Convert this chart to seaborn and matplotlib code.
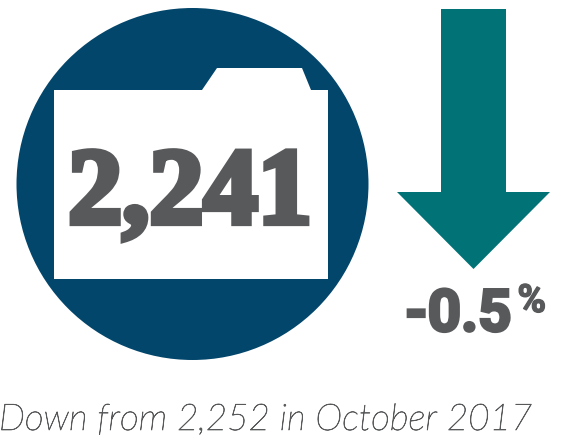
import matplotlib
matplotlib.use("Agg")
import matplotlib.pyplot as plt
import matplotlib.patheffects as pe
from matplotlib.patches import Circle, Polygon
import seaborn as sns

current_count = 2241
previous_count = 2252
previous_label = "October 2017"
change_pct = -0.5

NAVY = "#03466b"
TEAL = "#017377"
GREY = "#58595b"

sns.set_theme(style="white")
plt.rcParams["font.family"] = ["Lato", "DejaVu Sans"]

fig = plt.figure(figsize=(5.7, 4.45), dpi=100)
ax = fig.add_axes([0, 0, 1, 1])
ax.set_xlim(0, 570)
ax.set_ylim(445, 0)
ax.axis("off")

ax.add_patch(Circle((192.5, 184), 176, fc=NAVY, ec="none"))
ax.add_patch(Polygon([(54, 90), (202, 90), (217, 68), (302, 68), (311, 90),
                      (328, 90), (328, 279), (54, 279)], fc="white", ec="none"))
ax.add_patch(Polygon([(441, 9), (506, 9), (506, 192), (550, 192), (473.5, 269),
                      (397, 192), (441, 192)], fc=TEAL, ec="none"))

ax.text(190, 223, f"{current_count:,}", family="Liberation Serif", weight="bold",
        fontsize=78, color=GREY, ha="center", va="baseline",
        path_effects=[pe.withStroke(linewidth=4.5, foreground=GREY, joinstyle="miter")])

ax.text(405, 331, f"{change_pct:.1f}", family="Roboto", weight="bold",
        fontsize=42, color=GREY, ha="left", va="baseline",
        path_effects=[pe.withStroke(linewidth=2.2, foreground=GREY, joinstyle="miter")])
ax.text(546, 312, "%", family="Roboto", weight="bold", fontsize=28, color=GREY,
        ha="right", va="baseline",
        path_effects=[pe.withStroke(linewidth=1.0, foreground=GREY)])

ax.text(532, 430, f"Down from {previous_count:,} in {previous_label}", family="Lato",
        style="italic", weight="light", fontsize=26.5, color=GREY, ha="right", va="baseline",
        path_effects=[pe.withStroke(linewidth=0.5, foreground=GREY)])

fig.savefig("out.png", dpi=100, facecolor="white")
